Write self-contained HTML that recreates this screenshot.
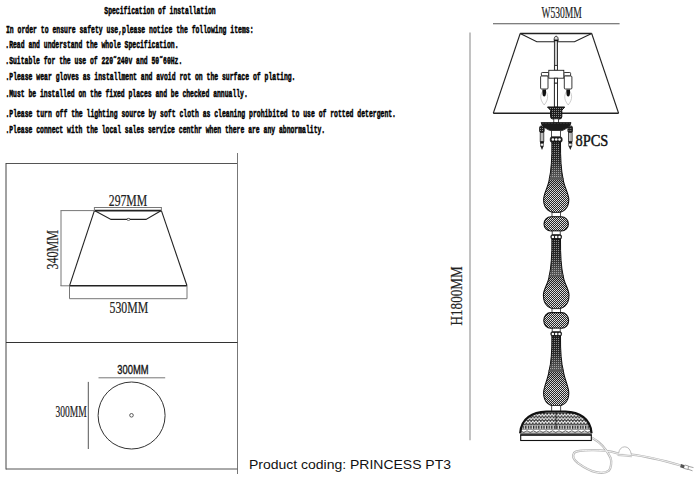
<!DOCTYPE html>
<html><head><meta charset="utf-8">
<style>
html,body{margin:0;padding:0;background:#fff;width:700px;height:483px;overflow:hidden}
svg{display:block;position:absolute;left:0;top:0}
.t{font-family:"Liberation Mono",monospace;font-weight:bold;font-size:11px;fill:#000;stroke:#000;stroke-width:0.5px}
.d{font-family:"Liberation Serif",serif;fill:#222;stroke:#222;stroke-width:0.2px}
</style></head><body>
<svg width="700" height="483" viewBox="0 0 700 483">
<defs>
<pattern id="hx" width="2" height="2" patternUnits="userSpaceOnUse" x="0" y="0">
<rect width="2" height="2" fill="#262626"/>
<rect width="1" height="1" fill="#e6e6e6"/><rect x="1" y="1" width="1" height="1" fill="#d0d0d0"/>
</pattern>
<pattern id="hd" width="2" height="2" patternUnits="userSpaceOnUse" x="0" y="0">
<rect width="2" height="2" fill="#1e1e1e"/>
<rect width="1" height="1" fill="#8a8a8a"/>
</pattern>
<pattern id="hm" width="3.2" height="3.6" patternUnits="userSpaceOnUse" x="520" y="413">
<rect width="3.2" height="3.6" fill="#fff"/>
<path d="M0,0 L3.2,0 L1.6,2.2 Z" fill="#222"/>
<path d="M0,3.6 L0,1.5 L1.2,3.6 Z M3.2,3.6 L3.2,1.5 L2,3.6 Z" fill="#333"/>
</pattern>
<pattern id="hr" width="2.6" height="3" patternUnits="userSpaceOnUse" x="520" y="425.8">
<rect width="2.6" height="3" fill="#ddd"/>
<rect width="1.3" height="3" fill="#222"/>
</pattern>
<linearGradient id="cg" x1="0" y1="0" x2="0" y2="1">
<stop offset="0" stop-color="#fff" stop-opacity="0"/><stop offset="0.5" stop-color="#fff" stop-opacity="0.05"/><stop offset="1" stop-color="#fff" stop-opacity="0.28"/>
</linearGradient>
<linearGradient id="bg" x1="0" y1="0" x2="0" y2="1">
<stop offset="0" stop-color="#000" stop-opacity="0.25"/><stop offset="0.45" stop-color="#000" stop-opacity="0"/>
</linearGradient>
</defs>

<!-- spec text -->
<text class="t" x="104.3" y="14" textLength="111.4" lengthAdjust="spacingAndGlyphs">Specification of installation</text>
<text class="t" x="6.0" y="32.5" textLength="247.5" lengthAdjust="spacingAndGlyphs">In order to ensure safety use,please notice the following items:</text>
<text class="t" x="5.3" y="48" textLength="173.2" lengthAdjust="spacingAndGlyphs">.Read and understand the whole Specification.</text>
<text class="t" x="5.3" y="64" textLength="177.0" lengthAdjust="spacingAndGlyphs">.Suitable for the use of 220˜240v and 50˜60Hz.</text>
<text class="t" x="5.4" y="80.4" textLength="290.1" lengthAdjust="spacingAndGlyphs">.Please wear gloves as installment and avoid rot on the surface of plating.</text>
<text class="t" x="5.4" y="96.8" textLength="242.4" lengthAdjust="spacingAndGlyphs">.Must be installed on the fixed places and be checked annually.</text>
<text class="t" x="5.4" y="117" textLength="390.6" lengthAdjust="spacingAndGlyphs">.Please turn off the lighting source by soft cloth as cleaning prohibited to use of rotted detergent.</text>
<text class="t" x="5.4" y="133.3" textLength="319.8" lengthAdjust="spacingAndGlyphs">.Please connect with the local sales service centhr when there are any abnormality.</text>

<!-- left boxes -->
<g fill="none" stroke-width="1">
<line x1="6" y1="163.5" x2="237.5" y2="163.5" stroke="#555"/>
<line x1="6" y1="163" x2="6" y2="469.5" stroke="#444"/>
<line x1="237.5" y1="153" x2="237.5" y2="474" stroke="#777"/>
<line x1="6" y1="342.5" x2="237.5" y2="342.5" stroke="#333"/>
<line x1="6" y1="469" x2="237.5" y2="469" stroke="#555"/>
</g>

<!-- shade drawing -->
<g fill="none" stroke="#222" stroke-width="1.1">
<line x1="94.4" y1="210.6" x2="161.4" y2="210.6" stroke-width="1.6"/>
<polyline points="94.4,210.6 111,219.4 146,219.4 161.4,210.6"/>
<ellipse cx="128.5" cy="219.4" rx="1.6" ry="1" fill="#fff" stroke-width="0.7"/>
<line x1="94.4" y1="210.6" x2="69.5" y2="285.8"/>
<line x1="161.4" y1="210.6" x2="187" y2="285.8"/>
<line x1="69.5" y1="285.8" x2="187" y2="285.8" stroke-width="1.6"/>
</g>
<g fill="none" stroke="#777" stroke-width="1">
<line x1="94.4" y1="207.5" x2="161.4" y2="207.5"/>
<line x1="94.4" y1="207" x2="94.4" y2="211"/>
<line x1="161.4" y1="207" x2="161.4" y2="211"/>
<line x1="60.5" y1="210.6" x2="94.4" y2="210.6"/>
<line x1="61" y1="210.6" x2="61" y2="286"/>
<line x1="60.5" y1="285.8" x2="69.5" y2="285.8"/>
<polyline points="69.5,285.8 69.5,298.7 187,298.7 187,285.8"/>
</g>
<text class="d" x="108.8" y="206" font-size="16.4" textLength="38.4" lengthAdjust="spacingAndGlyphs">297MM</text>
<text class="d" x="109.6" y="313" font-size="16" textLength="38.6" lengthAdjust="spacingAndGlyphs">530MM</text>
<text class="d" transform="translate(57.5,269.4) rotate(-90)" x="0" y="0" font-size="15.8" textLength="39.4" lengthAdjust="spacingAndGlyphs">340MM</text>

<!-- circle drawing -->
<text x="117.2" y="373.6" font-family="Liberation Sans" font-size="13.6" fill="#111" stroke="#111" stroke-width="0.35" textLength="31.4" lengthAdjust="spacingAndGlyphs">300MM</text>
<line x1="98.5" y1="377.8" x2="165.2" y2="377.8" stroke="#777" stroke-width="1"/>
<circle cx="131.6" cy="415.5" r="33.5" fill="none" stroke="#333" stroke-width="1"/>
<circle cx="131.5" cy="415.3" r="1.8" fill="none" stroke="#333" stroke-width="0.8"/>
<line x1="88.3" y1="381.9" x2="88.3" y2="449" stroke="#555" stroke-width="1"/>
<text class="d" x="55.5" y="416.5" font-size="16" textLength="31.2" lengthAdjust="spacingAndGlyphs">300MM</text>

<!-- product coding -->
<text x="249" y="469.4" font-family="Liberation Sans" font-size="13" fill="#111" textLength="202" lengthAdjust="spacingAndGlyphs">Product coding: PRINCESS PT3</text>

<!-- H dimension -->
<line x1="470" y1="32.5" x2="470" y2="440.3" stroke="#999" stroke-width="1.2"/>
<text class="d" transform="translate(462.3,325.4) rotate(-90)" x="0" y="0" font-size="16.5" textLength="59" lengthAdjust="spacingAndGlyphs">H1800MM</text>

<!-- W dimension -->
<text class="d" x="541.5" y="17.8" font-size="17" textLength="40.3" lengthAdjust="spacingAndGlyphs">W530MM</text>
<line x1="493" y1="23.8" x2="619.6" y2="23.8" stroke="#555" stroke-width="1.1"/>

<!-- lamp shade -->
<g fill="none" stroke="#222" stroke-width="1.1">
<line x1="520.2" y1="33.5" x2="591.7" y2="33.5" stroke-width="1.5"/>
<polyline points="520.2,33.5 536.8,41.7 574.5,41.7 591.7,33.5"/>
<line x1="520.2" y1="33.5" x2="493.3" y2="113.3"/>
<line x1="591.7" y1="33.5" x2="618.6" y2="113.3"/>
<line x1="493.3" y1="113.3" x2="618.6" y2="113.3" stroke-width="1.6"/>
</g>


<!-- lamp internals -->
<g stroke="#222" stroke-width="0.9" fill="#fff">
<!-- rod -->
<rect x="554.4" y="40.5" width="3.1" height="67" fill="#ccc"/>
<path d="M554.1,40.5 Q554.1,36.2 556.15,36.2 Q558.2,36.2 558.2,40.5 Z" fill="#ddd"/>
<rect x="554.1" y="39.6" width="4.1" height="1.6" fill="#111" stroke="none"/>
<rect x="554.6" y="65.4" width="2.8" height="4.9" fill="#fff"/>
<!-- arms -->
<rect x="541.4" y="72.5" width="7.4" height="3.5" rx="0.8"/>
<rect x="563.8" y="72.5" width="6.8" height="3.5" rx="0.8"/>
<!-- block -->
<rect x="548.8" y="70.3" width="15" height="7.9"/>
<!-- candles -->
<rect x="540.6" y="76" width="7.4" height="13" rx="1"/>
<rect x="564.3" y="76" width="7.6" height="13" rx="1"/>
<!-- collar below block -->
<rect x="554.4" y="78.2" width="3.1" height="5"/>
<rect x="554.4" y="83.2" width="3.1" height="24" fill="#fff"/>
</g>
<!-- flames -->
<g fill="none" stroke="#aaa" stroke-width="0.6">
<path d="M544.2,89 C548.5,94 549,99 544.2,105 C539.3,99 539.9,94 544.2,89 Z"/>
<path d="M568.2,89 C572.5,94 573,99 568.2,105 C563.3,99 563.9,94 568.2,89 Z"/>
</g>
<g fill="#111">
<path d="M542.4,89.5 h3.6 v3.2 q0,3.5 -1.8,3.7 q-1.8,-0.2 -1.8,-3.7 Z"/>
<path d="M566.4,89.5 h3.6 v3.2 q0,3.5 -1.8,3.7 q-1.8,-0.2 -1.8,-3.7 Z"/>
</g>

<!--STEM-->
<!-- cord -->
<g fill="none" stroke-linecap="round" stroke-linejoin="round">
<path d="M592.3,437.9 C600,442 607,450 610.5,457.7 C612,462 611,468 608.9,470.6 C606,473 600,473 596.1,472.2 C590,471 582,466 577.9,463.1 C574,460 572,456 574.1,452.9 C576,450.9 580,450.6 591.8,450.2 C600,450.1 610,451 617.5,453.4 L631.5,454.6 C645,456 660,459.5 681,465.5" stroke="#b4b4b4" stroke-width="2.3"/>
<path d="M592.3,437.9 C600,442 607,450 610.5,457.7 C612,462 611,468 608.9,470.6 C606,473 600,473 596.1,472.2 C590,471 582,466 577.9,463.1 C574,460 572,456 574.1,452.9 C576,450.9 580,450.6 591.8,450.2 C600,450.1 610,451 617.5,453.4 L631.5,454.6 C645,456 660,459.5 681,465.5" stroke="#fff" stroke-width="0.8"/>
</g>
<path d="M618.6,453.4 Q619.5,447 624.8,446.8 Q630,447 631.4,454.6" fill="#fff" stroke="#aaa" stroke-width="0.8"/>
<path d="M617.5,455.5 L632,456.8" stroke="#bbb" stroke-width="0.8" fill="none"/>
<path d="M681,464 l3.8,1.2 l-0.9,3.2 l-3.8,-1.2 Z" fill="#555"/>
<g stroke="#888" stroke-width="0.8" fill="none">
<path d="M684.8,465 L688.5,466 L688,469.5 L684,468.4"/>
<line x1="688.5" y1="466.4" x2="693.5" y2="467.6"/>
<line x1="688" y1="469.2" x2="692.5" y2="470.8"/>
</g>
<!-- cup -->
<path d="M547.5,107 L564.7,107 L561.8,110.3 L561.8,116.8 Q561.8,119 559.4,119 L553.1,119 Q550.6,119 550.6,116.8 L550.6,110.3 Z" fill="url(#hd)" stroke="#111" stroke-width="1"/>
<rect x="553.8" y="118.8" width="4.6" height="4.2" fill="#fff" stroke="#222" stroke-width="0.8"/>
<!-- bobeche -->
<path d="M541.1,122.6 L571,122.6 Q571,126.2 566,128.6 Q563.5,130.3 561.7,130.6 L550.8,130.6 Q548.8,130.3 546.3,128.6 Q541.3,126.2 541.1,122.6 Z" fill="#1a1a1a" stroke="#111" stroke-width="0.8"/>
<path d="M542,123.4 L570,123.4" stroke="#666" stroke-width="0.6" stroke-dasharray="0.6 0.9"/>
<!-- drops -->
<g id="drop">
<rect x="539.6" y="126" width="4.6" height="6.6" rx="1.6" fill="url(#hd)" stroke="#111" stroke-width="0.8"/>
<rect x="540.2" y="132.6" width="3.6" height="8.9" fill="#ccc" stroke="#222" stroke-width="0.8"/>
<line x1="542" y1="133" x2="542" y2="141" stroke="#888" stroke-width="0.5"/>
<rect x="540.1" y="141.5" width="3.8" height="2" fill="#111"/>
<rect x="540.4" y="143.5" width="3.2" height="2.5" fill="#eee" stroke="#333" stroke-width="0.6"/>
<path d="M540.3,146 L543.7,146 L542,150 Z" fill="#222"/>
</g>
<use href="#drop" transform="translate(28.3,0)"/>
<!-- collar & ring under bobeche -->
<rect x="551.6" y="130.6" width="9" height="6.4" fill="#fff" stroke="#222" stroke-width="0.8"/>
<rect x="550.3" y="137" width="11.8" height="5.2" rx="1.8" fill="#222" stroke="#111" stroke-width="0.8"/>
<circle cx="552.9" cy="139.6" r="1.25" fill="#fff"/><circle cx="556.2" cy="139.6" r="1.25" fill="#fff"/><circle cx="559.5" cy="139.6" r="1.25" fill="#fff"/>
<path d="M551.9,142 Q552.1,166.5 549.3,179 L563.1,179 Q560.3,166.5 560.5,142 Z" fill="url(#hd)"/><path d="M551.9,142 Q552.1,166.5 549.3,179 L563.1,179 Q560.3,166.5 560.5,142 Z" fill="url(#cg)"/><path d="M551.9,142 Q552.1,166.5 549.3,179 L563.1,179 Q560.3,166.5 560.5,142 Z" fill="none" stroke="#111" stroke-width="1"/>
<path d="M549.3,179 C548.7,186.0 543.6,193.5 543.6,199.5 C543.6,209.5 550.2,212.5 556.2,212.5 C562.2,212.5 568.8,209.5 568.8,199.5 C568.8,193.5 563.7,186.0 563.1,179 Z" fill="url(#hx)"/><path d="M549.3,179 C548.7,186.0 543.6,193.5 543.6,199.5 C543.6,209.5 550.2,212.5 556.2,212.5 C562.2,212.5 568.8,209.5 568.8,199.5 C568.8,193.5 563.7,186.0 563.1,179 Z" fill="url(#bg)"/><path d="M549.3,179 C548.7,186.0 543.6,193.5 543.6,199.5 C543.6,209.5 550.2,212.5 556.2,212.5 C562.2,212.5 568.8,209.5 568.8,199.5 C568.8,193.5 563.7,186.0 563.1,179 Z" fill="none" stroke="#111" stroke-width="1.1"/><line x1="549.3" y1="179" x2="563.1" y2="179" stroke="#777" stroke-width="1.2"/>
<rect x="552.0" y="212.5" width="8.4" height="4.5" fill="#fff" stroke="#222" stroke-width="0.8"/>
<rect x="544.0" y="216.8" width="24.4" height="14.2" rx="7" ry="7.5" fill="url(#hx)" stroke="#111" stroke-width="1.1"/>
<rect x="552.2" y="231" width="8.0" height="4.0" fill="#fff" stroke="#222" stroke-width="0.8"/>
<rect x="550.9" y="234.8" width="10.6" height="4.2" rx="1.5" fill="#222" stroke="#111" stroke-width="0.8"/><circle cx="552.9" cy="236.9" r="1.25" fill="#fff"/><circle cx="556.2" cy="236.9" r="1.25" fill="#fff"/><circle cx="559.5" cy="236.9" r="1.25" fill="#fff"/>
<path d="M551.9,239 Q552.1,263.5 549.2,276 L563.2,276 Q560.3,263.5 560.5,239 Z" fill="url(#hd)"/><path d="M551.9,239 Q552.1,263.5 549.2,276 L563.2,276 Q560.3,263.5 560.5,239 Z" fill="url(#cg)"/><path d="M551.9,239 Q552.1,263.5 549.2,276 L563.2,276 Q560.3,263.5 560.5,239 Z" fill="none" stroke="#111" stroke-width="1"/>
<path d="M549.2,276 C548.6,283.0 543.4,289.0 543.4,295.0 C543.4,306.0 550.2,309 556.2,309 C562.2,309 569.0,306.0 569.0,295.0 C569.0,289.0 563.8,283.0 563.2,276 Z" fill="url(#hx)"/><path d="M549.2,276 C548.6,283.0 543.4,289.0 543.4,295.0 C543.4,306.0 550.2,309 556.2,309 C562.2,309 569.0,306.0 569.0,295.0 C569.0,289.0 563.8,283.0 563.2,276 Z" fill="url(#bg)"/><path d="M549.2,276 C548.6,283.0 543.4,289.0 543.4,295.0 C543.4,306.0 550.2,309 556.2,309 C562.2,309 569.0,306.0 569.0,295.0 C569.0,289.0 563.8,283.0 563.2,276 Z" fill="none" stroke="#111" stroke-width="1.1"/><line x1="549.2" y1="276" x2="563.2" y2="276" stroke="#777" stroke-width="1.2"/>
<rect x="552.0" y="308.7" width="8.4" height="4.1" fill="#fff" stroke="#222" stroke-width="0.8"/>
<rect x="543.8" y="312.6" width="24.8" height="15.6" rx="7" ry="7.5" fill="url(#hx)" stroke="#111" stroke-width="1.1"/>
<rect x="552.2" y="328.2" width="8.0" height="4.0" fill="#fff" stroke="#222" stroke-width="0.8"/>
<rect x="550.9" y="331.8" width="10.6" height="4.2" rx="1.5" fill="#222" stroke="#111" stroke-width="0.8"/><circle cx="552.9" cy="333.9" r="1.25" fill="#fff"/><circle cx="556.2" cy="333.9" r="1.25" fill="#fff"/><circle cx="559.5" cy="333.9" r="1.25" fill="#fff"/>
<path d="M551.9,336 Q552.1,359.5 549.0,371 L563.4,371 Q560.3,359.5 560.5,336 Z" fill="url(#hd)"/><path d="M551.9,336 Q552.1,359.5 549.0,371 L563.4,371 Q560.3,359.5 560.5,336 Z" fill="url(#cg)"/><path d="M551.9,336 Q552.1,359.5 549.0,371 L563.4,371 Q560.3,359.5 560.5,336 Z" fill="none" stroke="#111" stroke-width="1"/>
<path d="M549.0,371 C548.4,378.0 543.6,387.0 543.6,393.0 C543.6,403.0 550.2,406 556.2,406 C562.2,406 568.8,403.0 568.8,393.0 C568.8,387.0 564.0,378.0 563.4,371 Z" fill="url(#hx)"/><path d="M549.0,371 C548.4,378.0 543.6,387.0 543.6,393.0 C543.6,403.0 550.2,406 556.2,406 C562.2,406 568.8,403.0 568.8,393.0 C568.8,387.0 564.0,378.0 563.4,371 Z" fill="url(#bg)"/><path d="M549.0,371 C548.4,378.0 543.6,387.0 543.6,393.0 C543.6,403.0 550.2,406 556.2,406 C562.2,406 568.8,403.0 568.8,393.0 C568.8,387.0 564.0,378.0 563.4,371 Z" fill="none" stroke="#111" stroke-width="1.1"/><line x1="549.0" y1="371" x2="563.4" y2="371" stroke="#777" stroke-width="1.2"/>
<rect x="551.7" y="405.6" width="9.0" height="6.0" fill="#fff" stroke="#222" stroke-width="0.8"/>

<!-- base dome -->
<clipPath id="domeclip"><path d="M546.3,411.6 L565.4,411.6 C579,412 590.5,418 591.5,433 L520.2,433 C521.2,418 532.7,412 546.3,411.6 Z"/></clipPath>
<g clip-path="url(#domeclip)">
<rect x="519" y="411" width="74" height="23" fill="#fff"/>
<rect x="519" y="413" width="74" height="11.6" fill="url(#hm)"/>
<line x1="519" y1="424.9" x2="593" y2="424.9" stroke="#222" stroke-width="0.9"/>
<rect x="519" y="425.8" width="74" height="3" fill="url(#hr)"/>
<line x1="519" y1="429.4" x2="593" y2="429.4" stroke="#444" stroke-width="0.6"/>
<path d="M519,431.6 q1.6,-1.5 3.2,0 t3.2,0 t3.2,0 t3.2,0 t3.2,0 t3.2,0 t3.2,0 t3.2,0 t3.2,0 t3.2,0 t3.2,0 t3.2,0 t3.2,0 t3.2,0 t3.2,0 t3.2,0 t3.2,0 t3.2,0 t3.2,0 t3.2,0 t3.2,0 t3.2,0 t3.2,0" fill="none" stroke="#333" stroke-width="0.8"/>
<line x1="556" y1="412" x2="556" y2="429" stroke="#111" stroke-width="0.8"/>
</g>
<path d="M546.3,411.6 L565.4,411.6 C579,412 590.5,418 591.5,433 M520.2,433 C521.2,418 532.7,412 546.3,411.6" fill="none" stroke="#111" stroke-width="2.2"/>
<line x1="519.5" y1="433.2" x2="592.2" y2="433.2" stroke="#222" stroke-width="0.9"/>
<rect x="520.7" y="435.1" width="70.6" height="5.4" fill="#fff" stroke="#111" stroke-width="1.1"/>
<line x1="520.2" y1="434.9" x2="591.8" y2="434.9" stroke="#111" stroke-width="1.4"/>

<text x="575.5" y="145.5" font-family="Liberation Serif" font-size="17.6" fill="#111" stroke="#111" stroke-width="0.45" textLength="32.9" lengthAdjust="spacingAndGlyphs">8PCS</text>

</svg>
</body></html>
